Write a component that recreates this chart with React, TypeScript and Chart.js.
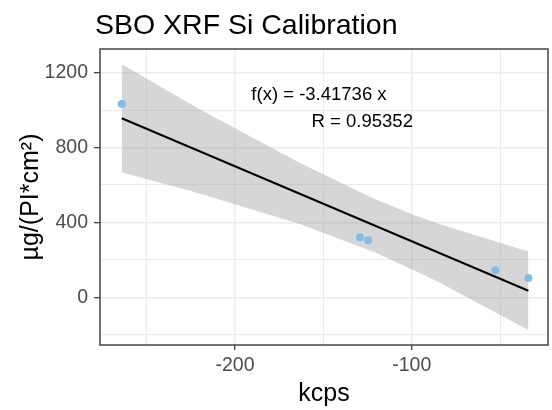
import React, { useEffect, useRef } from "react";
import { Chart, registerables } from "chart.js";

Chart.register(...registerables);

// ---- data ----
const titleText = "SBO XRF Si Calibration";
const xTitle = "kcps";
const yTitle = "µg/(PI*cm²)";

const pointX = [-264.1, -129.3, -124.7, -52.7, -34.0];
const pointY = [1032, 320, 304, 144, 103];

const fitX = [-264.1, -34.0];
const fitY = [956, 35];

const bandX = [-264.1, -220, -163, -121, -100, -84, -34.0];
const bandUpper = [1245, 1004, 716, 525, 444, 390, 244];
const bandLower = [668, 554, 390, 241, 150, 77, -175];

const annotationLines = ["f(x) = -3.41736 x", "R = 0.95352"];
const annotationX = [-152.5, -128];
const annotationY = [1081, 934];

const xGridTicks = [-250, -200, -150, -100, -50];
const yGridTicks = [-200, 0, 200, 400, 600, 800, 1000, 1200];
const xMajorTicks = [-200, -100];
const yMajorTicks = [0, 400, 800, 1200];

const xRange = [-276.4, -22.9];
const yRange = [-255, 1326];

const FONT = '"Liberation Sans", Arial, sans-serif';

const toXY = (xs: number[], ys: number[]) => xs.map((x, i) => ({ x, y: ys[i] }));

export default function App() {
  const ref = useRef<HTMLCanvasElement | null>(null);

  useEffect(() => {
    if (!ref.current) return;

    const decor = {
      id: "decor",
      afterDatasetsDraw(chart: any) {
        const { ctx, chartArea } = chart;
        const xs = chart.scales.x;
        const ys = chart.scales.y;
        ctx.save();
        ctx.fillStyle = "#000000";
        ctx.font = `18.5px ${FONT}`;
        ctx.textAlign = "center";
        ctx.textBaseline = "middle";
        annotationLines.forEach((t, i) => {
          ctx.fillText(t, xs.getPixelForValue(annotationX[i]), ys.getPixelForValue(annotationY[i]));
        });
        ctx.strokeStyle = "#444444";
        ctx.lineWidth = 1.5;
        ctx.strokeRect(chartArea.left, chartArea.top, chartArea.right - chartArea.left, chartArea.bottom - chartArea.top);
        ctx.restore();
      },
      afterDraw(chart: any) {
        const { ctx, chartArea } = chart;
        ctx.save();
        ctx.fillStyle = "#000000";
        ctx.font = `28.5px ${FONT}`;
        ctx.textAlign = "left";
        ctx.textBaseline = "alphabetic";
        ctx.fillText(titleText, chartArea.left - 5, 33.5);
        ctx.restore();
      },
    };

    const chart = new Chart(ref.current, {
      type: "scatter",
      data: {
        datasets: [
          {
            label: "points",
            data: toXY(pointX, pointY),
            backgroundColor: "#84BDE3",
            borderWidth: 0,
            pointRadius: 4,
            order: 0,
          },
          {
            label: "fit",
            data: toXY(fitX, fitY),
            showLine: true,
            borderColor: "#000000",
            borderWidth: 2,
            pointRadius: 0,
            fill: false,
            order: 1,
          },
          {
            label: "upper",
            data: toXY(bandX, bandUpper),
            showLine: true,
            borderWidth: 0,
            borderColor: "rgba(0,0,0,0)",
            pointRadius: 0,
            fill: "+1",
            backgroundColor: "rgba(153,153,153,0.4)",
            order: 2,
          },
          {
            label: "lower",
            data: toXY(bandX, bandLower),
            showLine: true,
            borderWidth: 0,
            borderColor: "rgba(0,0,0,0)",
            pointRadius: 0,
            fill: false,
            order: 3,
          },
        ],
      },
      options: {
        responsive: false,
        animation: false,
        events: [],
        layout: { padding: { top: 49, right: 4, left: 0, bottom: 0 } },
        plugins: {
          legend: { display: false },
          tooltip: { enabled: false },
          title: { display: false },
        },
        scales: {
          x: {
            type: "linear",
            min: xRange[0],
            max: xRange[1],
            afterBuildTicks(scale: any) {
              scale.ticks = xGridTicks.map((v) => ({ value: v }));
            },
            afterFit(scale: any) {
              scale.height = 65;
            },
            border: { display: false },
            grid: {
              color: "#EBEBEB",
              lineWidth: (c: any) => (xMajorTicks.includes(c.tick?.value) ? 1.4 : 1),
              tickColor: (c: any) => (xMajorTicks.includes(c.tick?.value) ? "#333333" : "rgba(0,0,0,0)"),
              tickLength: 5,
              tickWidth: 1.2,
            },
            ticks: {
              autoSkip: false,
              maxRotation: 0,
              padding: 4,
              color: "#4D4D4D",
              font: { family: FONT, size: 19.5 },
              callback: (v: any) => (xMajorTicks.includes(Number(v)) ? String(v) : ""),
            },
            title: {
              display: true,
              text: xTitle,
              color: "#000000",
              font: { family: FONT, size: 25 },
              padding: { top: 0, bottom: 1 },
            },
          },
          y: {
            type: "linear",
            min: yRange[0],
            max: yRange[1],
            afterBuildTicks(scale: any) {
              scale.ticks = yGridTicks.map((v) => ({ value: v }));
            },
            afterFit(scale: any) {
              scale.width = 100;
            },
            border: { display: false },
            grid: {
              color: "#EBEBEB",
              lineWidth: (c: any) => (yMajorTicks.includes(c.tick?.value) ? 1.4 : 1),
              tickColor: (c: any) => (yMajorTicks.includes(c.tick?.value) ? "#333333" : "rgba(0,0,0,0)"),
              tickLength: 6,
              tickWidth: 1.2,
            },
            ticks: {
              autoSkip: false,
              padding: 6,
              color: "#4D4D4D",
              font: { family: FONT, size: 19.5 },
              callback: (v: any) => (yMajorTicks.includes(Number(v)) ? String(v) : ""),
            },
            title: {
              display: true,
              text: yTitle,
              color: "#000000",
              font: { family: FONT, size: 25 },
              padding: { top: 16, bottom: 0 },
            },
          },
        },
      },
      plugins: [decor],
    } as any);

    return () => chart.destroy();
  }, []);

  return (
    <div style={{ position: "absolute", left: 0, top: 0, width: 552, height: 410, background: "#ffffff" }}>
      <canvas ref={ref} width={552} height={410} style={{ display: "block" }} />
    </div>
  );
}
